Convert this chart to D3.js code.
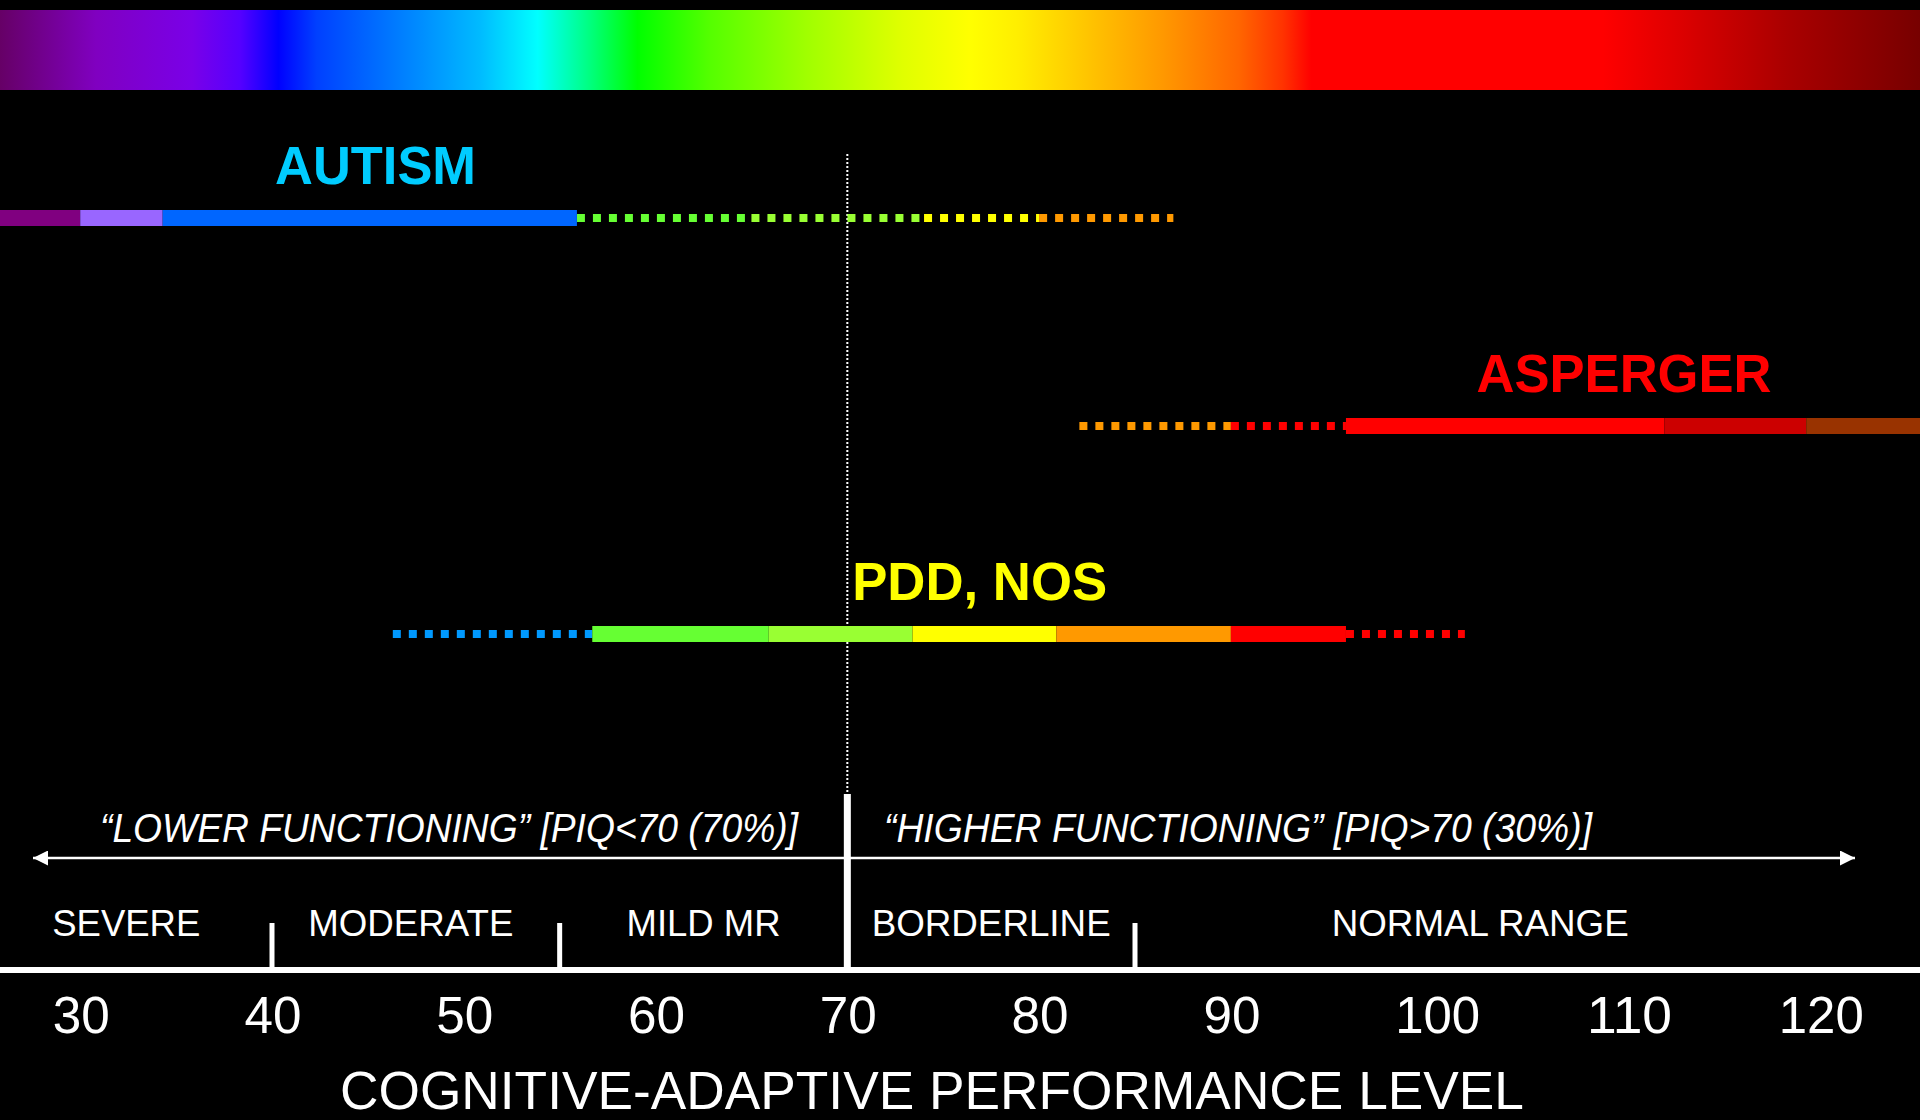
<!DOCTYPE html>
<html>
<head>
<meta charset="utf-8">
<script src="https://cdn.jsdelivr.net/npm/d3@7"></script>
<style>
  html, body { margin: 0; padding: 0; background: #000; }
  svg { display: block; }
  text { font-family: "Liberation Sans", Arial, sans-serif; }
</style>
</head>
<body>
<div id="chart"></div>
<script>
// ---------------- DATA ----------------
const categories = ["AUTISM", "ASPERGER", "PDD, NOS"];
const tickValues = [30, 40, 50, 60, 70, 80, 90, 100, 110, 120];
const levelNames = ["SEVERE", "MODERATE", "MILD MR", "BORDERLINE", "NORMAL RANGE"];
const levelBounds = [40, 55, 70, 85];          // boundaries between levels
const levelRanges = [[24.8, 40], [40, 55], [55, 70], [70, 85], [85, 121]];
const cutoff = 70;                              // PIQ cut-off
const functioningLabels = ["\u201CLOWER FUNCTIONING\u201D [PIQ<70 (70%)]", "\u201CHIGHER FUNCTIONING\u201D [PIQ>70 (30%)]"];
const axisTitle = "COGNITIVE-ADAPTIVE PERFORMANCE LEVEL";

// range segments per diagnosis: breakpoints (value units)
const autismSolid   = [25, 30, 34.3, 55.9];
const autismDotted  = [55.9, 65, 74, 80, 87];
const aspergerDotted = [82.1, 90, 96];
const aspergerSolid  = [96, 112.6, 120, 130];
const pddDottedLeft  = [46.3, 56.7];
const pddSolid       = [56.7, 65.9, 73.4, 80.9, 90, 96];
const pddDottedRight = [96, 102.2];
const labelCenters   = [45.4, 110.5, 76.9];     // where each diagnosis name sits

// ---------------- STYLE ----------------
const autismSolidColors  = ["#800080", "#9966ff", "#0066ff"];
const autismDottedColors = ["#66ff33", "#99ff33", "#ffff00", "#ff9900"];
const aspergerDottedColors = ["#ff9900", "#ff0000"];
const aspergerSolidColors  = ["#ff0000", "#cc0000", "#993300"];
const pddDottedLeftColors  = ["#0099ff"];
const pddSolidColors       = ["#66ff33", "#99ff33", "#ffff00", "#ff9900", "#ff0000"];
const pddDottedRightColors = ["#ff0000"];
const labelColors = ["#00ccff", "#ff0000", "#ffff00"];
const rainbowStops = [
  [0.000, "#660066"], [0.050, "#8000c0"], [0.100, "#7a00e8"], [0.125, "#5500ff"],
  [0.145, "#0000ff"], [0.165, "#0040ff"], [0.210, "#0080ff"], [0.250, "#00bbff"],
  [0.280, "#00ffff"], [0.307, "#00ff80"], [0.332, "#00ff00"], [0.370, "#55ff00"],
  [0.420, "#a0ff00"], [0.470, "#e0ff00"], [0.505, "#ffff00"], [0.530, "#ffee00"],
  [0.560, "#ffcc00"], [0.605, "#ff9900"], [0.645, "#ff6600"], [0.668, "#ff3300"],
  [0.683, "#ff0000"], [0.835, "#ff0000"], [0.875, "#dd0000"], [0.930, "#aa0000"],
  [1.000, "#770000"]
];

// ---------------- CHART ----------------
const W = 1920, H = 1120;
const svg = d3.select("#chart").append("svg").attr("width", W).attr("height", H)
  .style("background", "#000");

const x = d3.scaleLinear().domain([40, 85]).range([272, 1135]);
const y = d3.scalePoint().domain(categories).range([218, 634]);

// rainbow band
const defs = svg.append("defs");
const grad = defs.append("linearGradient").attr("id", "rainbow")
  .attr("x1", "0%").attr("x2", "100%").attr("y1", "0%").attr("y2", "0%");
grad.selectAll("stop").data(rainbowStops).join("stop")
  .attr("offset", d => d[0]).attr("stop-color", d => d[1]);
svg.append("rect").attr("x", 0).attr("y", 10).attr("width", W).attr("height", 80)
  .attr("fill", "url(#rainbow)");

// vertical dotted cut-off line
svg.append("line")
  .attr("x1", x(cutoff)).attr("x2", x(cutoff))
  .attr("y1", 154).attr("y2", 796)
  .attr("stroke", "#fff").attr("stroke-width", 2).attr("stroke-dasharray", "2,2");

function segs(breaks, colors) {
  return colors.map((c, i) => ({ a: breaks[i], b: breaks[i + 1], c }));
}
function drawSolid(cat, breaks, colors) {
  svg.append("g").selectAll("rect").data(segs(breaks, colors)).join("rect")
    .attr("x", d => x(d.a)).attr("width", d => x(d.b) - x(d.a))
    .attr("y", y(cat) - 8).attr("height", 16)
    .attr("fill", d => d.c);
}
function drawDotted(cat, breaks, colors) {
  svg.append("g").selectAll("line").data(segs(breaks, colors)).join("line")
    .attr("x1", d => x(d.a)).attr("x2", d => x(d.b))
    .attr("y1", y(cat)).attr("y2", y(cat))
    .attr("stroke", d => d.c).attr("stroke-width", 8)
    .attr("stroke-dasharray", "8,8");
}

drawDotted("AUTISM", autismDotted, autismDottedColors);
drawSolid("AUTISM", autismSolid, autismSolidColors);
drawDotted("ASPERGER", aspergerDotted, aspergerDottedColors);
drawSolid("ASPERGER", aspergerSolid, aspergerSolidColors);
drawDotted("PDD, NOS", pddDottedLeft, pddDottedLeftColors);
drawDotted("PDD, NOS", pddDottedRight, pddDottedRightColors);
drawSolid("PDD, NOS", pddSolid, pddSolidColors);

// diagnosis labels
const labelWidths = [201, 295, 255];
svg.append("g").selectAll("text").data(categories).join("text")
  .attr("x", (d, i) => x(labelCenters[i]) - labelWidths[i] / 2)
  .attr("y", d => y(d) - 34)
  .attr("textLength", (d, i) => labelWidths[i]).attr("lengthAdjust", "spacingAndGlyphs")
  .attr("font-size", 54).attr("font-weight", "bold")
  .attr("fill", (d, i) => labelColors[i])
  .text(d => d);

// functioning arrow
defs.append("marker").attr("id", "arrowR").attr("viewBox", "0 0 10 10")
  .attr("refX", 10).attr("refY", 5).attr("markerWidth", 15).attr("markerHeight", 15)
  .attr("markerUnits", "userSpaceOnUse").attr("orient", "auto")
  .append("path").attr("d", "M0,0 L10,5 L0,10 Z").attr("fill", "#fff");
defs.append("marker").attr("id", "arrowL").attr("viewBox", "0 0 10 10")
  .attr("refX", 10).attr("refY", 5).attr("markerWidth", 15).attr("markerHeight", 15)
  .attr("markerUnits", "userSpaceOnUse").attr("orient", "auto-start-reverse")
  .append("path").attr("d", "M0,0 L10,5 L0,10 Z").attr("fill", "#fff");
svg.append("line")
  .attr("x1", 33).attr("x2", 1855).attr("y1", 858).attr("y2", 858)
  .attr("stroke", "#fff").attr("stroke-width", 2.5)
  .attr("marker-start", "url(#arrowL)").attr("marker-end", "url(#arrowR)");

const funcLayout = [{ cx: 449, w: 698 }, { cx: 1238, w: 708 }];
svg.append("g").selectAll("text").data(functioningLabels).join("text")
  .attr("x", (d, i) => funcLayout[i].cx - funcLayout[i].w / 2)
  .attr("y", 842)
  .attr("textLength", (d, i) => funcLayout[i].w).attr("lengthAdjust", "spacingAndGlyphs")
  .attr("font-size", 40).attr("font-style", "italic").attr("fill", "#fff")
  .text(d => d);

// thick cut-off line
svg.append("rect").attr("x", x(cutoff) - 3.5).attr("width", 7)
  .attr("y", 794).attr("height", 176).attr("fill", "#fff");

// level boundaries
svg.append("g").selectAll("rect").data(levelBounds.filter(v => v !== cutoff)).join("rect")
  .attr("x", d => x(d) - 2.5).attr("width", 5)
  .attr("y", 923).attr("height", 47).attr("fill", "#fff");

// level names
const levelWidths = [148, 205, 154, 239, 297];
svg.append("g").selectAll("text").data(levelNames).join("text")
  .attr("x", (d, i) => x((levelRanges[i][0] + levelRanges[i][1]) / 2) - levelWidths[i] / 2 - (i === 1 ? 5 : 0))
  .attr("y", 936)
  .attr("textLength", (d, i) => levelWidths[i]).attr("lengthAdjust", "spacingAndGlyphs")
  .attr("font-size", 36).attr("fill", "#fff")
  .text(d => d);

// axis line
svg.append("rect").attr("x", 0).attr("width", W).attr("y", 967).attr("height", 6).attr("fill", "#fff");

// axis tick labels
const axis = d3.axisBottom(x).tickValues(tickValues).tickSize(0).tickFormat(d3.format("d"));
const gAxis = svg.append("g").attr("transform", "translate(0,980)").call(axis);
gAxis.select(".domain").remove();
gAxis.selectAll("text")
  .attr("text-anchor", "start").attr("x", -28).attr("y", 0).attr("dy", "53px")
  .attr("font-size", 52).attr("fill", "#fff")
  .attr("font-family", "Liberation Sans, Arial, sans-serif")
  .each(function(d) {
    const s = String(d);
    d3.select(this).attr("textLength", s.length === 2 ? 57 : 85).attr("lengthAdjust", "spacingAndGlyphs");
  });

// axis title
svg.append("text").attr("x", 340).attr("y", 1109)
  .attr("textLength", 1184).attr("lengthAdjust", "spacingAndGlyphs")
  .attr("font-size", 54).attr("fill", "#fff")
  .text(axisTitle);
</script>
</body>
</html>
